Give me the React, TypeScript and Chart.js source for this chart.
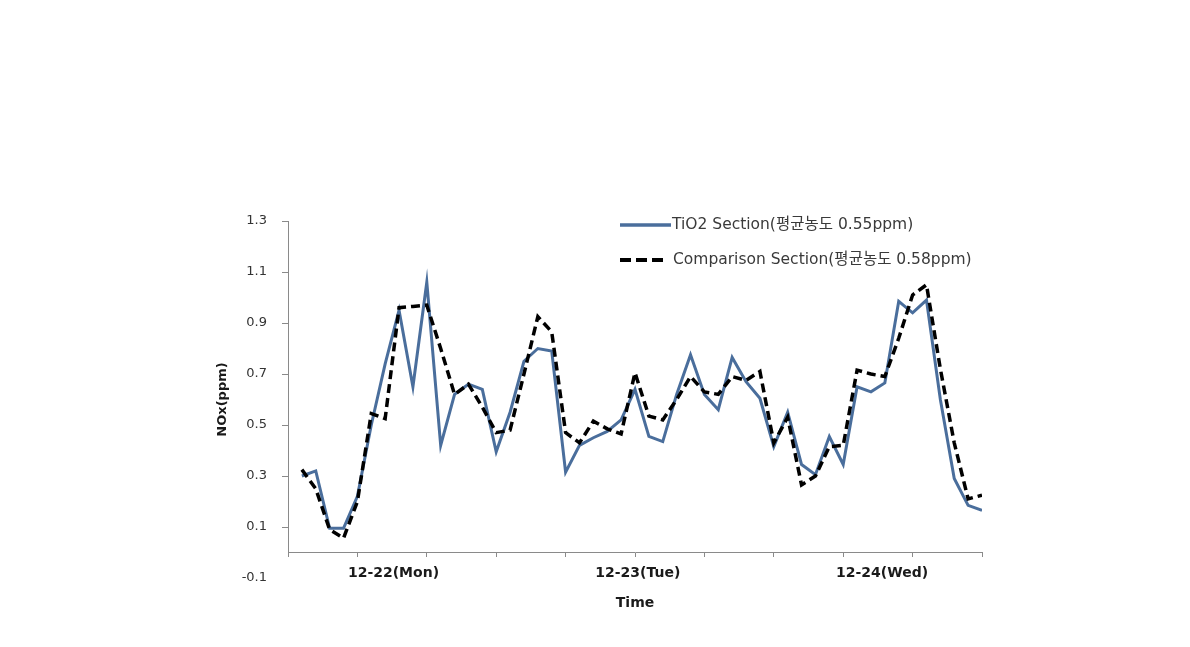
import React, { useEffect, useRef } from 'react';
import { Chart, registerables } from 'chart.js';

Chart.register(...registerables);

// ---- data ----
const tio2Section = [
  0.30, 0.32, 0.095, 0.095, 0.22, 0.50, 0.74, 0.95, 0.65, 1.06,
  0.42, 0.62, 0.66, 0.64, 0.395, 0.55, 0.75, 0.80, 0.79, 0.315,
  0.42, 0.45, 0.475, 0.52, 0.64, 0.455, 0.435, 0.62, 0.775, 0.62,
  0.56, 0.765, 0.67, 0.605, 0.415, 0.55, 0.345, 0.305, 0.455, 0.345,
  0.65, 0.63, 0.665, 0.985, 0.94, 0.99, 0.60, 0.29, 0.185, 0.165,
];
const comparisonSection = [
  0.325, 0.25, 0.09, 0.056, 0.20, 0.545, 0.525, 0.96, 0.965, 0.97,
  0.80, 0.62, 0.66, 0.57, 0.47, 0.48, 0.70, 0.925, 0.865, 0.47,
  0.43, 0.515, 0.485, 0.465, 0.705, 0.535, 0.52, 0.60, 0.69, 0.63,
  0.62, 0.69, 0.675, 0.71, 0.43, 0.53, 0.265, 0.30, 0.415, 0.42,
  0.715, 0.70, 0.69, 0.84, 1.01, 1.05, 0.72, 0.43, 0.21, 0.225,
];
const seriesLabels = ['TiO2 Section(평균농도 0.55ppm)', 'Comparison Section(평균농도 0.58ppm)'];
const dayLabels = ['12-22(Mon)', '12-23(Tue)', '12-24(Wed)'];
const dayLabelSample = [7.6, 25.2, 42.8]; // sample index where each day label is centred
const sampleTickMarks = [0, 5, 10, 15, 20, 25, 30, 35, 40, 45, 50];
const yTickValues = [-0.1, 0.1, 0.3, 0.5, 0.7, 0.9, 1.1, 1.3];
const xTitle = 'Time';
const yTitle = 'NOx(ppm)';

const AXIS_GREY = '#8a8a8a';
const BLUE = '#4a6e9c';

const isDayTick = (v: number) => dayLabelSample.some((d) => Math.abs(d - v) < 1e-6);

const yAxisLinePlugin = {
  id: 'yAxisLine',
  beforeDatasetsDraw(chart: any) {
    const { ctx, scales } = chart;
    const x = Math.round(scales.x.getPixelForValue(0)) + 0.5;
    ctx.save();
    ctx.strokeStyle = AXIS_GREY;
    ctx.lineWidth = 1;
    ctx.beginPath();
    ctx.moveTo(x, scales.y.getPixelForValue(yTickValues[yTickValues.length - 1]));
    ctx.lineTo(x, scales.y.getPixelForValue(0));
    ctx.stroke();
    ctx.restore();
  },
};

const insetLegendPlugin = {
  id: 'insetLegend',
  afterDraw(chart: any, _args: any, opts: any) {
    const { ctx } = chart;
    chart.data.datasets.forEach((ds: any, i: number) => {
      const y = opts.top + i * opts.rowGap;
      ctx.save();
      ctx.strokeStyle = ds.borderColor;
      ctx.lineWidth = ds.borderWidth + 0.5;
      ctx.setLineDash(ds.borderDash ? opts.legendDash : []);
      ctx.beginPath();
      ctx.moveTo(opts.left, y);
      ctx.lineTo(opts.left + opts.sampleLen[i], y);
      ctx.stroke();
      ctx.setLineDash([]);
      ctx.fillStyle = '#3a3a3a';
      ctx.font = opts.font;
      ctx.textBaseline = 'middle';
      ctx.textAlign = 'left';
      ctx.fillText(ds.label, opts.left + opts.sampleLen[i] + opts.textGap[i], y);
      ctx.restore();
    });
  },
};

export default function App() {
  const canvasRef = useRef<HTMLCanvasElement | null>(null);

  useEffect(() => {
    document.body.style.margin = '0';
    const canvas = canvasRef.current;
    if (!canvas) return;
    const chart = new Chart(canvas, {
      type: 'line',
      data: {
        datasets: [
          {
            label: seriesLabels[0],
            data: tio2Section.map((v, i) => ({ x: i + 1, y: v })),
            borderColor: BLUE,
            borderWidth: 3,
            pointRadius: 0,
            tension: 0,
            fill: false,
            order: 1,
          },
          {
            label: seriesLabels[1],
            data: comparisonSection.map((v, i) => ({ x: i + 1, y: v })),
            borderColor: '#000000',
            borderWidth: 3.5,
            borderDash: [9, 5],
            pointRadius: 0,
            tension: 0,
            fill: false,
            order: 0,
          },
        ],
      },
      options: {
        responsive: false,
        animation: false,
        devicePixelRatio: 1,
        layout: { padding: { left: 215, right: 208, top: 221, bottom: 69 } },
        plugins: {
          legend: { display: false },
          tooltip: { enabled: false },
          insetLegend: {
            left: 620,
            top: 225,
            rowGap: 35,
            sampleLen: [51, 44],
            legendDash: [11, 5],
            textGap: [1, 9],
            font: '15.5px "DejaVu Sans", "Noto Sans CJK KR"',
          },
        } as any,
        scales: {
          x: {
            type: 'linear',
            position: { y: 0 } as any,
            min: 0,
            max: 50,
            afterBuildTicks: (scale: any) => {
              const vals = [...sampleTickMarks, ...dayLabelSample].sort((a, b) => a - b);
              scale.ticks = vals.map((v) => ({ value: v }));
            },
            afterFit: (scale: any) => {
              scale.height = 59.4;
            },
            border: { display: true, color: AXIS_GREY, width: 1 },
            grid: {
              drawOnChartArea: false,
              drawTicks: true,
              tickLength: 4,
              tickColor: (c: any) => (c.tick && isDayTick(c.tick.value) ? 'rgba(0,0,0,0)' : AXIS_GREY),
            },
            ticks: {
              autoSkip: false,
              maxRotation: 0,
              padding: 8,
              color: '#1a1a1a',
              font: { family: '"DejaVu Sans"', size: 14, weight: 'bold' },
              callback: (v: any) => {
                const idx = dayLabelSample.findIndex((d) => Math.abs(d - Number(v)) < 1e-6);
                return idx >= 0 ? dayLabels[idx] : '';
              },
            },
            title: {
              display: true,
              text: xTitle,
              color: '#1a1a1a',
              padding: { top: 0, bottom: 0 },
              font: { family: '"DejaVu Sans"', size: 14, weight: 'bold' },
            },
          },
          y: {
            type: 'linear',
            position: 'left',
            min: yTickValues[0],
            max: yTickValues[yTickValues.length - 1],
            afterBuildTicks: (scale: any) => {
              scale.ticks = yTickValues.map((v) => ({ value: v }));
            },
            afterFit: (scale: any) => {
              scale.width = 73;
            },
            border: { display: false },
            grid: {
              drawOnChartArea: false,
              drawTicks: true,
              tickLength: 6,
              tickColor: (c: any) => (c.tick && c.tick.value < 0 ? 'rgba(0,0,0,0)' : AXIS_GREY),
            },
            ticks: {
              padding: 15,
              color: '#333333',
              font: { family: '"DejaVu Sans"', size: 13 },
              callback: (v: any) => Number(v).toFixed(1),
            },
            title: {
              display: true,
              text: yTitle,
              color: '#1a1a1a',
              padding: { top: 0, bottom: 0 },
              font: { family: '"DejaVu Sans"', size: 13, weight: 'bold' },
            },
          },
        },
      },
      plugins: [yAxisLinePlugin, insetLegendPlugin],
    });
    return () => chart.destroy();
  }, []);

  return (
    <canvas
      ref={canvasRef}
      width={1190}
      height={647}
      style={{ display: 'block', width: '1190px', height: '647px' }}
    />
  );
}
